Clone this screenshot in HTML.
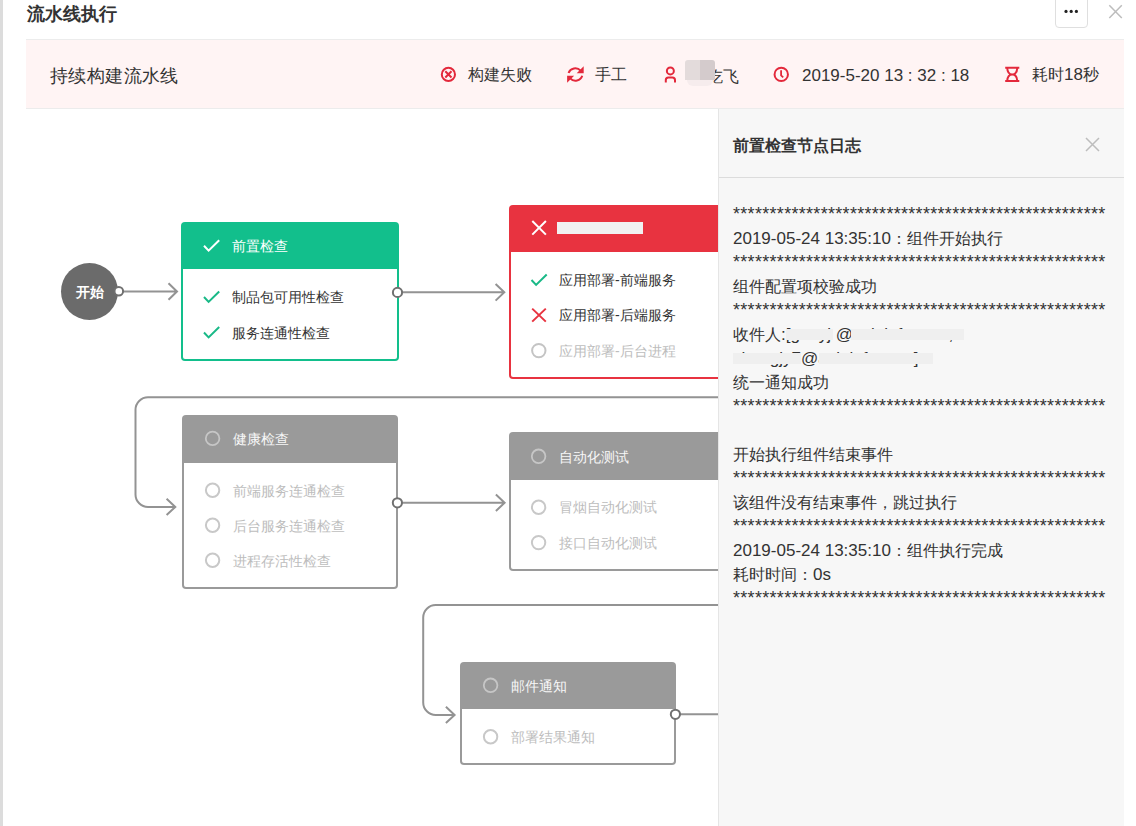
<!DOCTYPE html>
<html><head><meta charset="utf-8">
<style>
*{box-sizing:border-box;margin:0;padding:0}
html,body{width:1136px;height:826px;overflow:hidden;background:#fff;font-family:"Liberation Sans",sans-serif;color:#333}
.a{position:absolute}
svg{position:absolute;left:0;top:0;overflow:visible}
#lb{left:0;top:0;width:3px;height:826px;background:#dcdcdc}
#title{left:27px;top:1px;font-size:18px;font-weight:bold;line-height:26px;color:#333}
#more{left:1055px;top:-4px;width:33px;height:32px;border:1px solid #dfdfdf;border-radius:4px;background:#fff}
#band{left:26px;top:39px;width:1098px;height:70px;background:#fff4f4;border-top:1px solid #ececec;border-bottom:1px solid #ececec}
.ht{font-size:16px;line-height:20px;color:#333;white-space:nowrap}
.l{font-size:17px}
#panel{left:718px;top:109px;width:406px;height:717px;background:#f7f7f7;border-left:1px solid #e5e5e5;z-index:10}
#ph{left:0;top:0;width:405px;height:69px;border-bottom:1px solid #dcdcdc}
.node{position:absolute;border-radius:4px;overflow:hidden;z-index:2}
.nh{position:absolute;left:0;top:0;right:0;height:48px;color:#fff;font-size:14px}
.nb{position:absolute;left:0;right:0;bottom:0;background:#fff}
.row{position:absolute;font-size:14px;white-space:nowrap;line-height:20px}
.log{position:absolute;z-index:11;left:733px;font-size:16px;line-height:24px;color:#333;white-space:nowrap}
.ast{font-size:18px;letter-spacing:0.3px}
</style></head><body>
<div id="lb" class="a"></div>
<div id="title" class="a">流水线执行</div>
<div id="more" class="a"></div>
<div id="band" class="a"></div>
<div class="a ht" style="left:50px;top:65px;font-size:18px;line-height:22px;letter-spacing:0.4px">持续构建流水线</div>
<div class="a ht" style="left:468px;top:65px">构建失败</div>
<div class="a ht" style="left:595px;top:65px">手工</div>
<div class="a ht" style="left:690.5px;top:66.5px">毛吃飞</div>
<div class="a" style="left:685px;top:60px;width:15px;height:20px;background:#e3dbdb;border-radius:3px 0 0 0"></div>
<div class="a" style="left:700px;top:60px;width:14.6px;height:20px;background:#d4cbcc;border-radius:0 3px 0 0"></div>
<div class="a" style="left:687px;top:80px;width:26px;height:6px;background:#f6eced;border-radius:0 0 6px 6px"></div>
<div class="a ht" style="left:802px;top:66px"><span class="l">2019-5-20 13 : 32 : 18</span></div>
<div class="a ht" style="left:1032px;top:65px">耗时<span class="l">18</span>秒</div>
<svg width="1136" height="826" style="z-index:5">
 <g fill="#222"><circle cx="1066" cy="11.4" r="1.6"/><circle cx="1071.2" cy="11.4" r="1.6"/><circle cx="1076.4" cy="11.4" r="1.6"/></g>
 <path d="M1109.3 5.3L1121.8 18M1121.8 5.3L1109.3 18" stroke="#bdbdbd" stroke-width="1.5" fill="none"/>
 <g stroke="#e3283b" stroke-width="2" fill="none">
  <circle cx="448.4" cy="74.4" r="6.6"/>
  <path d="M445.3 71.3L451.5 77.5M451.5 71.3L445.3 77.5"/>
  <path d="M568.6 73A7 6.6 0 0 1 580.6 70.6"/>
  <path d="M582.2 75.8A7 6.6 0 0 1 570.2 78.4"/>
  <circle cx="670.35" cy="70.9" r="3.5"/>
  <path d="M665.8 82.4V80A2.6 2.6 0 0 1 668.4 77.4H672.4A2.6 2.6 0 0 1 675 80V82.4"/>
  <circle cx="781.25" cy="74.4" r="6.7"/>
  <path d="M781.1 70.3V75.4L783.2 77.3" stroke-width="1.8"/>
  <path d="M1005.2 67.7H1019.3M1005.2 81.1H1019.3M1007.2 67.7C1007.4 72.2 1009 74.4 1012.25 74.4C1015.5 74.4 1017.1 72.2 1017.3 67.7M1007.2 81.1C1007.4 76.6 1009 74.4 1012.25 74.4C1015.5 74.4 1017.1 76.6 1017.3 81.1"/>
 </g>
 <g fill="#e3283b">
  <path d="M583.7 66.2V73.2H576.7Z"/>
  <path d="M567.1 75.7H574.1L567.1 82.7Z"/>
 </g>
</svg>

<svg width="1136" height="826" style="z-index:1">
 <g stroke="#939393" stroke-width="2" fill="none">
  <path d="M120 291.5H177M168.5 283.2L177 291.5L168.5 299.8"/>
  <path d="M400 292.3H504.3M495.6 284L504.3 292.3L495.6 300.6"/>
  <path d="M718 397.3H148A12.5 12.5 0 0 0 135.5 409.8V494.4A12.5 12.5 0 0 0 148 506.9H175.3M166.6 498.7L175.3 506.9L166.6 515.1"/>
  <path d="M400 502.8H504.6M495.9 494.6L504.6 502.8L495.9 511"/>
  <path d="M718 605.1H435.7A12.5 12.5 0 0 0 423.2 617.6V702.4A12.5 12.5 0 0 0 435.7 714.9H454.6M445.9 706.7L454.6 714.9L445.9 723.1"/>
  <path d="M676 714.3H718"/>
 </g>
</svg>
<div class="a" style="left:61px;top:263px;width:57px;height:57px;border-radius:50%;background:#6b6b6b;z-index:2"></div>
<div class="a" style="left:61px;top:282px;width:57px;text-align:center;color:#fff;font-weight:bold;font-size:14px;line-height:20px;z-index:3">开始</div>

<div class="node" style="left:181px;top:221.5px;width:218px;height:139px;background:#12bf8c">
 <div class="nb" style="top:47.8px;left:2px;right:2px;bottom:2px;border-radius:0 0 2px 2px"></div>
 <div class="row" style="left:51px;top:14px;color:#fff">前置检查</div>
 <div class="row" style="left:51px;top:65.5px">制品包可用性检查</div>
 <div class="row" style="left:51px;top:101px">服务连通性检查</div>
</div>

<div class="node" style="left:508.5px;top:204.5px;width:300px;height:174.5px;background:#e83340">
 <div class="nb" style="top:47.5px;left:2px;right:2px;bottom:2px;border-radius:0 0 2px 2px"></div>
 <div class="a" style="left:48.5px;top:17.5px;width:86px;height:12px;background:#f1f1f1"></div>
 <div class="row" style="left:50.5px;top:65.5px">应用部署-前端服务</div>
 <div class="row" style="left:50.5px;top:100.5px">应用部署-后端服务</div>
 <div class="row" style="left:50.5px;top:136px;color:#bdbdbd">应用部署-后台进程</div>
</div>

<div class="node" style="left:182.4px;top:415px;width:215.6px;height:174px;background:#9a9a9a">
 <div class="nb" style="top:47.5px;left:2px;right:2px;bottom:2px;border-radius:0 0 2px 2px"></div>
 <div class="row" style="left:50.6px;top:13.5px;color:#f7f7f7">健康检查</div>
 <div class="row" style="left:50.6px;top:65.5px;color:#bdbdbd">前端服务连通检查</div>
 <div class="row" style="left:50.6px;top:100.5px;color:#bdbdbd">后台服务连通检查</div>
 <div class="row" style="left:50.6px;top:135.5px;color:#bdbdbd">进程存活性检查</div>
</div>

<div class="node" style="left:509px;top:432.2px;width:300px;height:138.5px;background:#9a9a9a">
 <div class="nb" style="top:47.4px;left:2px;right:2px;bottom:2px;border-radius:0 0 2px 2px"></div>
 <div class="row" style="left:50.2px;top:15px;color:#f7f7f7">自动化测试</div>
 <div class="row" style="left:50.2px;top:65px;color:#bdbdbd">冒烟自动化测试</div>
 <div class="row" style="left:50.2px;top:100.5px;color:#bdbdbd">接口自动化测试</div>
</div>

<div class="node" style="left:460.4px;top:662px;width:215.6px;height:103px;background:#9a9a9a">
 <div class="nb" style="top:47.1px;left:2px;right:2px;bottom:2px;border-radius:0 0 2px 2px"></div>
 <div class="row" style="left:50.6px;top:13.5px;color:#f7f7f7">邮件通知</div>
 <div class="row" style="left:50.6px;top:64.5px;color:#bdbdbd">部署结果通知</div>
</div>

<svg width="1136" height="826" style="z-index:4">
 <g fill="#fff" stroke="#707070" stroke-width="2">
  <circle cx="118.8" cy="291.3" r="4.3"/>
  <circle cx="397.5" cy="292.4" r="4.6"/>
  <circle cx="397.4" cy="502.8" r="4.6"/>
  <circle cx="675.4" cy="714.3" r="4.6"/>
 </g>
 <g fill="none" stroke-width="2">
  <path d="M204 245.7L208.6 250.6L219.2 240.2" stroke="#fff"/>
  <path d="M204 297L208.6 301.9L219.2 291.5" stroke="#19b987"/>
  <path d="M204 332.5L208.6 337.4L219.2 327" stroke="#19b987"/>
  <path d="M532.3 221L545.9 234.6M545.9 221L532.3 234.6" stroke="#fff"/>
  <path d="M531.5 280L536.1 284.9L546.7 274.5" stroke="#19b987"/>
  <path d="M532.2 308.6L545.8 321.6M545.8 308.6L532.2 321.6" stroke="#e83340"/>
  <circle cx="538.8" cy="350.6" r="6.7" stroke="#c4c4c4"/>
  <circle cx="212.6" cy="438.4" r="6.8" stroke="#c6c6c6" stroke-width="1.8"/>
  <circle cx="212.6" cy="490.2" r="6.7" stroke="#c8c8c8"/>
  <circle cx="212.6" cy="525.2" r="6.7" stroke="#c8c8c8"/>
  <circle cx="212.6" cy="560.2" r="6.7" stroke="#c8c8c8"/>
  <circle cx="538.6" cy="456.3" r="6.8" stroke="#c6c6c6" stroke-width="1.8"/>
  <circle cx="538.6" cy="507.2" r="6.7" stroke="#c8c8c8"/>
  <circle cx="538.6" cy="542.6" r="6.7" stroke="#c8c8c8"/>
  <circle cx="490.6" cy="685.3" r="6.8" stroke="#c6c6c6" stroke-width="1.8"/>
  <circle cx="490.6" cy="736.7" r="6.7" stroke="#c8c8c8"/>
 </g>
</svg>
<div id="panel" class="a"><div id="ph" class="a"></div></div>
<div class="a" style="left:733px;top:136px;font-size:16px;font-weight:bold;line-height:20px;z-index:11">前置检查节点日志</div>
<div class="log ast" style="top:202px">***************************************************</div>
<div class="log" style="top:227px"><span class="l">2019-05-24 13:35:10</span>：组件开始执行</div>
<div class="log ast" style="top:250px">***************************************************</div>
<div class="log" style="top:275px">组件配置项校验成功</div>
<div class="log ast" style="top:298px">***************************************************</div>
<div class="log" style="top:323px">收件人<span class="l">:[gaoyj @asiainfo.com,</span></div>
<div class="log" style="top:347px"><span class="l">zhangjy7@asiainfo.com]</span></div>
<div class="log" style="top:371px">统一通知成功</div>
<div class="log ast" style="top:394px">***************************************************</div>
<div class="log" style="top:443px">开始执行组件结束事件</div>
<div class="log ast" style="top:466px">***************************************************</div>
<div class="log" style="top:491px">该组件没有结束事件，跳过执行</div>
<div class="log ast" style="top:514px">***************************************************</div>
<div class="log" style="top:539px"><span class="l">2019-05-24 13:35:10</span>：组件执行完成</div>
<div class="log" style="top:563px">耗时时间：<span class="l">0s</span></div>
<div class="log ast" style="top:586px">***************************************************</div>
<div class="a" style="left:785.5px;top:328.5px;width:47px;height:11px;background:#efefef;z-index:12"></div>
<div class="a" style="left:851px;top:328.5px;width:113px;height:11px;background:#efefef;z-index:12"></div>
<div class="a" style="left:733px;top:352.5px;width:68px;height:11px;background:#efefef;z-index:12"></div>
<div class="a" style="left:818.5px;top:352.5px;width:114.5px;height:11px;background:#efefef;z-index:12"></div>
<svg width="1136" height="826" style="z-index:11">
 <path d="M1086 138L1099 151M1099 138L1086 151" stroke="#bdbdbd" stroke-width="1.5" fill="none"/>
</svg>
</body></html>
